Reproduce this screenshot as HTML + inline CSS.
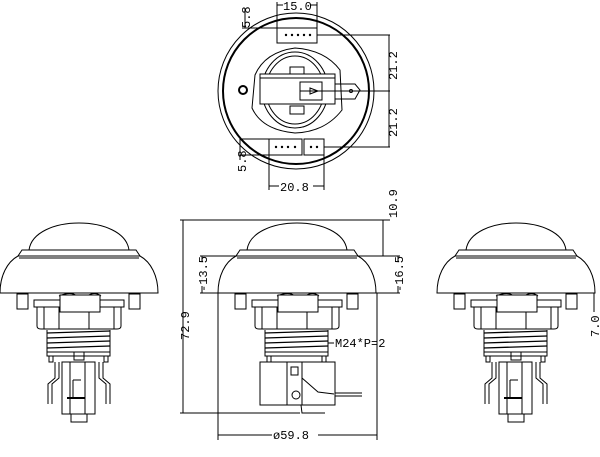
<!DOCTYPE html>
<html><head><meta charset="utf-8"><style>
html,body{margin:0;padding:0;background:#fff;}
svg{display:block}
text{font-family:"Liberation Mono","DejaVu Sans Mono",monospace;font-size:12px;fill:#000}
</style></head><body>
<svg width="600" height="457" viewBox="0 0 600 457" xmlns="http://www.w3.org/2000/svg">
<defs>
<g id="btn" fill="none" stroke="#000" stroke-width="1">
  <path d="M-50,250 C-45,214 45,214 50,250" />
  <path d="M-57,250 L57,250 L61,256 L-61,256 Z" fill="#fff"/>
  <line x1="-60" y1="258" x2="60" y2="258"/>
  <path d="M-61,256 C-72,262 -79,276 -79,293 L79,293 C79,276 72,262 61,256" />
  <rect x="-62" y="294" width="11" height="15"/>
  <rect x="50" y="294" width="11" height="15"/>
  <path d="M-20,296 Q-8,291 -2,296 M8,296 Q16,291 22,296" />
  <rect x="-45" y="300" width="90" height="7"/>
  <path d="M-42,307 L-42,326 Q-42,329 -38,329 L38,329 Q42,329 42,326 L42,307"/>
  <line x1="-35" y1="307" x2="-35" y2="329"/><line x1="35" y1="307" x2="35" y2="329"/>
  <line x1="-20" y1="307" x2="-20" y2="329"/><line x1="10" y1="312" x2="10" y2="329"/>
  <rect x="-19" y="295" width="40" height="17" fill="#fff"/>
  <path d="M-32,333 L31,331 M-32,338 L31,336 M-32,343 L31,341 M-32,348 L31,346" stroke-width="1.3"/>
  <line x1="-32" y1="330" x2="-32" y2="352"/><line x1="31" y1="330" x2="31" y2="352"/>
  <rect x="-32" y="352" width="63" height="4"/>
  <rect x="-30" y="356" width="4" height="6"/><rect x="25" y="356" width="4" height="6"/>
</g>
<g id="sideTerm" fill="none" stroke="#000" stroke-width="1">
  <rect x="-17" y="362" width="33" height="52"/>
  <line x1="-9" y1="362" x2="-9" y2="414"/><line x1="6" y1="362" x2="6" y2="414"/>
  <rect x="-8" y="414" width="16" height="8"/>
  <rect x="-5" y="352" width="10" height="8"/>
  <path d="M-24,362 L-24,378 L-31,384 L-31,404 M-20,362 L-20,378 L-27,384 L-27,404"/>
  <path d="M20,362 L20,378 L27,384 L27,404 M24,362 L24,378 L31,384 L31,404"/>
  <line x1="-12" y1="398" x2="6" y2="398" stroke-width="2"/>
  <path d="M-6,380 L2,380 M-6,380 L-6,398"/>
</g>
</defs>

<!-- TOP VIEW -->
<g fill="none" stroke="#000">
  <circle cx="296" cy="91" r="78" stroke-width="1"/>
  <circle cx="296" cy="91" r="73" stroke-width="2"/>
  <circle cx="243" cy="90" r="4" stroke-width="2"/>
  <path d="M255,75 Q265,52 295,48 Q325,50 340,70 L342,110 Q325,132 295,133 Q262,130 252,108 Z"/>
  <ellipse cx="295" cy="90" rx="33" ry="38"/>
  <ellipse cx="295" cy="90" rx="29" ry="34"/>
  <rect x="290" y="67" width="14" height="8"/>
  <rect x="290" y="106" width="14" height="8"/>
  <rect x="260" y="74" width="75" height="30" fill="#fff"/>
  <line x1="260" y1="78" x2="335" y2="78"/>
  <rect x="300" y="82" width="22" height="18" fill="#fff"/>
  <path d="M310,88 L318,91 L310,94 Z"/>
  <path d="M335,84 L355,84 L360,90 L355,99 L335,99"/>
  <circle cx="351" cy="91" r="1.5"/>
  <rect x="277" y="28" width="40" height="15" fill="#fff"/>
  <rect x="269" y="139" width="33" height="16" fill="#fff"/>
  <rect x="304" y="139" width="20" height="16" fill="#fff"/>
  <line x1="277" y1="28" x2="277" y2="2"/><line x1="317" y1="28" x2="317" y2="2"/>
  <line x1="277" y1="5" x2="283" y2="5"/><line x1="310" y1="5" x2="317" y2="5"/>
  <line x1="242" y1="28" x2="277" y2="28"/><line x1="245" y1="8" x2="245" y2="28"/>
  <line x1="317" y1="35" x2="390" y2="35"/><line x1="300" y1="91" x2="390" y2="91"/><line x1="324" y1="147" x2="390" y2="147"/>
  <line x1="389" y1="35" x2="389" y2="147"/>
  <line x1="240" y1="139" x2="269" y2="139"/><line x1="240" y1="155" x2="269" y2="155"/>
  <line x1="240" y1="139" x2="240" y2="160"/>
  <line x1="269" y1="155" x2="269" y2="190"/><line x1="324" y1="155" x2="324" y2="190"/>
  <line x1="269" y1="186" x2="279" y2="186"/><line x1="313" y1="186" x2="324" y2="186"/>
</g>
<g fill="#000"><circle cx="286" cy="35" r="1.2"/><circle cx="292" cy="35" r="1.2"/><circle cx="298" cy="35" r="1.2"/><circle cx="304" cy="35" r="1.2"/><circle cx="310" cy="35" r="1.2"/>
<circle cx="276" cy="147" r="1.2"/><circle cx="282" cy="147" r="1.2"/><circle cx="288" cy="147" r="1.2"/><circle cx="295" cy="147" r="1.2"/><circle cx="311" cy="147" r="1.2"/><circle cx="317" cy="147" r="1.2"/></g>
<text x="283" y="10">15.0</text>
<text x="280" y="191">20.8</text>
<text transform="translate(250,28) rotate(-90)">5.8</text>
<text transform="translate(246,172) rotate(-90)">5.8</text>
<text transform="translate(397,80) rotate(-90)">21.2</text>
<text transform="translate(397,137) rotate(-90)">21.2</text>
<text transform="translate(397,218) rotate(-90)">10.9</text>

<!-- SIDE VIEWS -->
<use href="#btn" x="79" y="0"/>
<use href="#sideTerm" x="79" y="0"/>
<use href="#btn" x="516" y="0"/>
<use href="#sideTerm" x="516" y="0"/>
<use href="#btn" x="297" y="0"/>
<g fill="none" stroke="#000">
  <rect x="260" y="362" width="75" height="43" fill="#fff"/>
  <line x1="287" y1="362" x2="287" y2="405"/><line x1="302" y1="362" x2="302" y2="405"/>
  <rect x="291" y="367" width="7" height="8"/>
  <path d="M302,378 L318,392 L334,394"/>
  <circle cx="296" cy="395" r="4"/>
  <line x1="335" y1="393" x2="362" y2="393"/><line x1="335" y1="396" x2="362" y2="396"/>
  <path d="M301,405 L302,413 L325,413"/>
  <line x1="180" y1="220" x2="390" y2="220"/>
  <line x1="183" y1="220" x2="183" y2="413"/>
  <line x1="180" y1="413" x2="300" y2="413"/>
  <line x1="200" y1="256" x2="400" y2="256"/>
  <line x1="200" y1="293" x2="400" y2="293"/>
  <line x1="202" y1="256" x2="202" y2="262"/><line x1="202" y1="286" x2="202" y2="293"/>
  <line x1="398" y1="256" x2="398" y2="262"/><line x1="398" y1="286" x2="398" y2="293"/>
  <line x1="383" y1="220" x2="383" y2="256"/>
  <line x1="218" y1="293" x2="218" y2="440"/><line x1="377" y1="293" x2="377" y2="440"/>
  <line x1="218" y1="435" x2="272" y2="435"/><line x1="318" y1="435" x2="377" y2="435"/>
  <line x1="328" y1="343" x2="334" y2="343"/>
  <line x1="594" y1="293" x2="594" y2="312"/>
</g>
<text transform="translate(189,340) rotate(-90)">72.9</text>
<text transform="translate(207,292) rotate(-90)">-13.5</text>
<text transform="translate(403,292) rotate(-90)">-16.5</text>
<text x="335" y="347">M24*P=2</text>
<text x="273" y="439">ø59.8</text>
<text transform="translate(599,337) rotate(-90)">7.0</text>
</svg>
</body></html>
